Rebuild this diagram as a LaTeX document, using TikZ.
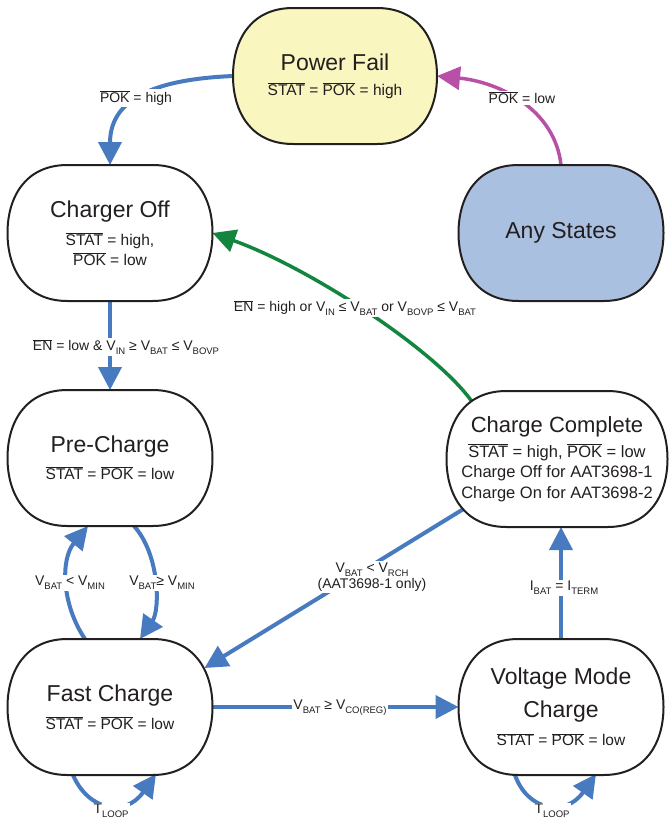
\documentclass[tikz,border=0pt]{standalone}
\usepackage{fontspec}
\setmainfont{Liberation Sans}
\usetikzlibrary{arrows.meta,calc}
\definecolor{cblue}{RGB}{72,122,192}
\definecolor{cmag}{RGB}{184,80,168}
\definecolor{cgreen}{RGB}{18,134,62}
\definecolor{cyel}{RGB}{250,246,192}
\definecolor{cstate}{RGB}{170,192,224}
\definecolor{ctext}{RGB}{35,31,32}
\pgfdeclarelayer{edges}
\pgfdeclarelayer{shapes}
\pgfsetlayers{edges,shapes,main}
\newcommand\ovl[1]{$\overline{\mbox{#1}}$}
\newcommand\sbs[1]{\raisebox{-0.28em}{\fontsize{9.5}{10}\selectfont #1}}
\newcommand\ttl{\fontsize{23}{26}\selectfont}
\newcommand\stshape[2]{%
 \begin{pgfonlayer}{shapes}
 \path[stateline,fill=#2]
 ($(#1.north west)+(60,0)$) -- ($(#1.north east)+(-60,0)$)
 .. controls ($(#1.north east)+(-18,0)$) and ($(#1.east)+(0,36)$) .. (#1.east)
 .. controls ($(#1.east)+(0,-36)$) and ($(#1.south east)+(-18,0)$) .. ($(#1.south east)+(-60,0)$)
 -- ($(#1.south west)+(60,0)$)
 .. controls ($(#1.south west)+(18,0)$) and ($(#1.west)+(0,-36)$) .. (#1.west)
 .. controls ($(#1.west)+(0,36)$) and ($(#1.north west)+(18,0)$) .. cycle;
 \end{pgfonlayer}}
\tikzset{
 st/.style={draw=none, outer sep=0pt, inner sep=0pt, minimum width=205pt, minimum height=136pt,
   align=center, text=ctext, font=\fontsize{15.5}{19}\selectfont},
 stateline/.style={draw=ctext, line width=2pt},
 arr/.style={line width=4pt, -{Triangle[length=23pt,width=23pt]}},
 bl/.style={arr, draw=cblue},
 mg/.style={arr, draw=cmag, line width=3.5pt},
 gr/.style={arr, draw=cgreen, line width=3.5pt},
 lbl/.style={fill=white, inner sep=1.5pt, text=ctext, font=\fontsize{14}{16}\selectfont, align=center}
}
\begin{document}
\begin{tikzpicture}[x=1pt,y=1pt]
\useasboundingbox (0,0) rectangle (670,-819);
% states
\node[st, minimum width=204pt] (pf) at (335,-76) {{\ttl Power Fail}\\[6pt]\ovl{STAT} = \ovl{POK} = high};
\stshape{pf}{cyel}
\node[st] (co) at (110,-233) {{\ttl Charger Off}\\[9pt]\ovl{STAT} = high,\\[1pt]\ovl{POK} = low};
\stshape{co}{white}
\node[st] (as) at (561,-233) {{\ttl Any States}};
\stshape{as}{cstate}
\node[st] (pc) at (110,-458) {{\ttl Pre-Charge}\\[8pt]\ovl{STAT} = \ovl{POK} = low};
\stshape{pc}{white}
\node[st, minimum width=221pt, font=\fontsize{16.5}{20.5}\selectfont] (cc) at (557,-459)
  {{\fontsize{22}{24}\selectfont Charge Complete}\\[4.5pt]\ovl{STAT} = high, \ovl{POK} = low\\Charge Off for AAT3698-1\\Charge On for AAT3698-2};
\stshape{cc}{white}
\node[st] (fc) at (110,-707) {{\ttl Fast Charge}\\[9pt]\ovl{STAT} = \ovl{POK} = low};
\stshape{fc}{white}
\node[st] (vm) at (561,-707) {{\ttl Voltage Mode}\\[11pt]{\ttl Charge}\\[9pt]\ovl{STAT} = \ovl{POK} = low};
\stshape{vm}{white}
% transitions
\begin{pgfonlayer}{edges}
\draw[bl] (pf.west) .. controls (163,-79) and (110,-95) .. (co.north);
\node[lbl] (l1) at (136,-98) {\ovl{POK} = high};
\draw[mg] (as.north) .. controls (555,-110) and (500,-82) .. (pf.east);
\node[lbl] (l2) at (522,-98) {\ovl{POK} = low};
\draw[gr] ([shift={(25,-10)}]cc.north west) .. controls (435,-350) and (310,-268) .. (co.east);
\node[lbl] (l3) at (355,-308) {\ovl{EN} = high or V\sbs{IN} ≤ V\sbs{BAT} or V\sbs{BOVP} ≤ V\sbs{BAT}};
\draw[bl] (co.south) -- (pc.north);
\node[lbl] (l4) at (126,-347) {\ovl{EN} = low \& V\sbs{IN} ≥ V\sbs{BAT} ≤ V\sbs{BOVP}};
\draw[bl] ([xshift=-25pt]fc.north) .. controls (62,-605) and (60,-560) .. ([xshift=-22pt]pc.south);
\node[lbl] (l5) at (70,-583) {V\sbs{BAT} < V\sbs{MIN}};
\draw[bl] ([xshift=24pt]pc.south) .. controls (160,-555) and (160,-610) .. ([xshift=30pt]fc.north);
\node[lbl] (l6) at (162,-583) {V\sbs{BAT}≥ V\sbs{MIN}};
\draw[bl] ([shift={(17,18)}]cc.south west) -- ([shift={(-8,-29)}]fc.north east);
\node[lbl] (l7) at (372,-577) {V\sbs{BAT} < V\sbs{RCH}\\(AAT3698-1 only)};
\draw[bl] (fc.east) -- (vm.west);
\node[lbl] (l8) at (340,-708) {V\sbs{BAT} ≥ V\sbs{CO(REG)}};
\draw[bl] (vm.north) -- (vm.north |- cc.south);
\node[lbl] (l9) at (564,-588) {I\sbs{BAT} = I\sbs{TERM}};
\draw[bl] ([xshift=-37pt]fc.south) .. controls (88,-810) and (125,-818) .. ([xshift=46pt,yshift=1pt]fc.south);
\node[lbl] (l10) at (111,-811) {T\sbs{LOOP}};
\draw[bl] ([xshift=-46pt]vm.south) .. controls (527,-810) and (565,-818) .. ([xshift=35pt,yshift=1pt]vm.south);
\node[lbl] (l11) at (552,-811) {T\sbs{LOOP}};
\end{pgfonlayer}
\end{tikzpicture}
\end{document}
